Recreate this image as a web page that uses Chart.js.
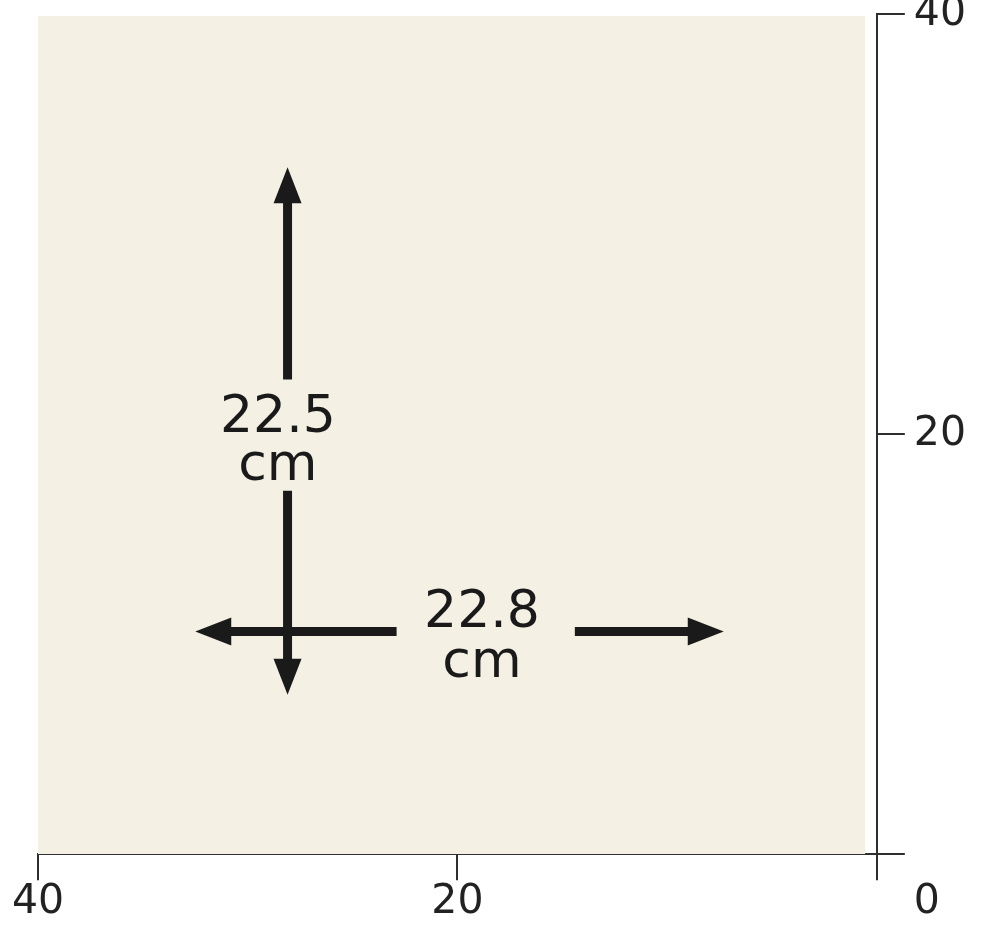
<!DOCTYPE html>
<html lang="en">
<head>
    <meta charset="UTF-8">
    <title>Tuch 22.5 x 22.8 cm</title>
    <style>
        body { margin: 0; background: #ffffff; }
        #wrap { width: 990px; height: 925px; }
    </style>
</head>
<body>
    <div id="wrap"><canvas id="sheetChart" width="990" height="925"></canvas></div>

    <script src="https://cdn.jsdelivr.net/npm/chart.js@4.4.1/dist/chart.umd.min.js"></script>

    <script>
        // axis ticks (cm)
        const tickValues = [0, 20, 40];
        const cornerLabel = "0";

        // the cloth sheet: left/right edge and top edge, bottom sits on 0
        const sheetX = [40.15, 0.55];
        const sheetTop = 39.9;

        // vertical arrow (x fixed), upper part runs tip -> gap, lower part gap -> tip
        const vArrowX = 28.1;
        const vArrowUpper = [32.7, 22.6];
        const vArrowLower = [17.3, 7.6];

        // horizontal arrow (y fixed), left part tip -> gap, right part gap -> tip
        const hArrowY = 10.6;
        const hArrowLeft = [32.5, 22.9];
        const hArrowRight = [14.4, 7.3];

        // size labels: text lines, x centre, baseline of each line
        const sizeLabels = [["22.5", "cm"], ["22.8", "cm"]];
        const sizeLabelX = [28.56, 18.83];
        const sizeLabelY = [[20.12, 17.84], [10.8, 8.42]];

        const ink = "#1a1a1a";
        const axisColor = "#2e2e2e";
        const headLen = 36;
        const headHalf = 14;

        function shaft(points, tipIndex) {
            return {
                data: points,
                borderColor: ink,
                borderWidth: 9,
                borderCapStyle: "butt",
                pointRadius: 0,
                fill: false,
                order: 0,
                arrowTip: tipIndex
            };
        }

        var datasets = [
            {
                // drawn underneath everything (higher order = further back)
                data: [{x: sheetX[0], y: sheetTop}, {x: sheetX[1], y: sheetTop}],
                borderWidth: 0,
                pointRadius: 0,
                backgroundColor: "#f4f0e4",
                fill: "origin",
                order: 10
            },
            shaft([{x: vArrowX, y: vArrowUpper[0]}, {x: vArrowX, y: vArrowUpper[1]}], 0),
            shaft([{x: vArrowX, y: vArrowLower[0]}, {x: vArrowX, y: vArrowLower[1]}], 1),
            shaft([{x: hArrowLeft[0], y: hArrowY}, {x: hArrowLeft[1], y: hArrowY}], 0),
            shaft([{x: hArrowRight[0], y: hArrowY}, {x: hArrowRight[1], y: hArrowY}], 1)
        ];

        // pull the shaft back from the tip and draw a pointed head there instead
        const arrowPlugin = {
            id: "arrowHeads",
            afterDatasetUpdate(chart, args) {
                var ds = chart.data.datasets[args.index];
                if (ds.arrowTip === undefined) return;
                var pts = args.meta.data;
                var tip = pts[ds.arrowTip];
                var other = pts[1 - ds.arrowTip];
                var dx = tip.x - other.x, dy = tip.y - other.y;
                var len = Math.sqrt(dx * dx + dy * dy);
                var ux = dx / len, uy = dy / len;
                args.meta._head = {x: tip.x, y: tip.y, ux: ux, uy: uy};
                tip.x = tip.x - ux * (headLen - 4);
                tip.y = tip.y - uy * (headLen - 4);
            },
            afterDatasetsDraw(chart) {
                var ctx = chart.ctx;
                ctx.save();
                ctx.fillStyle = ink;
                chart.data.datasets.forEach(function (ds, i) {
                    var h = chart.getDatasetMeta(i)._head;
                    if (!h) return;
                    var bx = h.x - h.ux * headLen, by = h.y - h.uy * headLen;
                    ctx.beginPath();
                    ctx.moveTo(h.x, h.y);
                    ctx.lineTo(bx - h.uy * headHalf, by + h.ux * headHalf);
                    ctx.lineTo(bx + h.uy * headHalf, by - h.ux * headHalf);
                    ctx.closePath();
                    ctx.fill();
                });
                ctx.restore();
            },
            afterDraw(chart) {
                var ctx = chart.ctx;
                var xs = chart.scales.x, ys = chart.scales.y;
                ctx.save();
                // size labels
                ctx.fillStyle = ink;
                ctx.font = "52px 'DejaVu Sans'";
                ctx.textAlign = "center";
                ctx.textBaseline = "alphabetic";
                sizeLabels.forEach(function (lines, i) {
                    lines.forEach(function (txt, j) {
                        ctx.fillText(txt, xs.getPixelForValue(sizeLabelX[i]), ys.getPixelForValue(sizeLabelY[i][j]));
                    });
                });
                // shared origin label in the corner
                var yo = ys.options, xo = xs.options;
                ctx.fillStyle = "#222222";
                ctx.font = "41px 'DejaVu Sans'";
                ctx.textAlign = "left";
                ctx.textBaseline = "middle";
                ctx.fillText(cornerLabel,
                    ys.left + yo.grid.tickLength + yo.ticks.padding,
                    xs.top + xo.grid.tickLength + xo.ticks.padding + 41 * 0.7 / 2);
                ctx.restore();
            }
        };

        function hideZero(value) {
            return value === 0 ? "" : String(value);
        }

        new Chart("sheetChart", {
            type: "line",
            data: { datasets: datasets },
            options: {
                responsive: false,
                animation: false,
                layout: { padding: { left: 38, top: 14, right: 15, bottom: 0 } },
                plugins: { legend: { display: false }, tooltip: { enabled: false } },
                scales: {
                    x: {
                        type: "linear",
                        position: "bottom",
                        min: 0,
                        max: 40,
                        reverse: true,
                        afterBuildTicks: function (scale) {
                            scale.ticks = tickValues.map(function (v) { return {value: v}; });
                        },
                        ticks: { callback: hideZero, font: { family: "'DejaVu Sans'", size: 41, lineHeight: 0.7 }, color: "#222222", padding: 8, maxRotation: 0 },
                        grid: { drawOnChartArea: false, tickLength: 26, color: axisColor, lineWidth: 2 },
                        border: { color: axisColor, width: 2 }
                    },
                    y: {
                        type: "linear",
                        position: "right",
                        min: 0,
                        max: 40,
                        afterBuildTicks: function (scale) {
                            scale.ticks = tickValues.map(function (v) { return {value: v}; });
                        },
                        ticks: { callback: hideZero, font: { family: "'DejaVu Sans'", size: 41, lineHeight: 0.1 }, color: "#222222", padding: 9 },
                        grid: { drawOnChartArea: false, tickLength: 28, color: axisColor, lineWidth: 2 },
                        border: { color: axisColor, width: 2 }
                    }
                }
            },
            plugins: [arrowPlugin]
        });
    </script>
</body>
</html>
